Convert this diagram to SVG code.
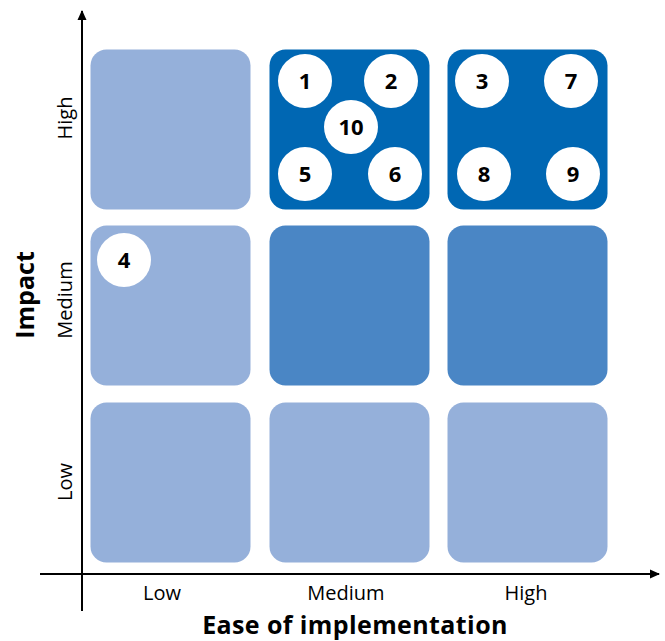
<svg xmlns="http://www.w3.org/2000/svg" width="665" height="641" viewBox="0 0 665 641">
<style>
.light{fill:#95B0DA}
.mid{fill:#4A86C5}
.dark{fill:#0067B3}
.c{fill:#FFFFFF}
.n{font-family:"Open Sans","Noto Sans",sans-serif;font-weight:bold;font-size:22px;fill:#000;text-anchor:middle}
.lab{font-family:"Open Sans","Noto Sans",sans-serif;font-size:20px;fill:#000;text-anchor:middle}
.title{font-family:"Open Sans","Noto Sans",sans-serif;font-weight:bold;font-size:25px;fill:#000;text-anchor:middle}
.ax{stroke:#000;stroke-width:2;fill:none}
</style>
<defs>
<marker id="ah" viewBox="0 0 10 10" refX="9" refY="5" markerWidth="10" markerHeight="10" markerUnits="userSpaceOnUse" orient="auto">
<path d="M0,0.5 L10,5 L0,9.5 Z" fill="#000"/>
</marker>
</defs>
<g id="cells">
<rect id="cell-low-high" class="light" x="90.5" y="49.5" width="160" height="160" rx="16"/>
<rect id="cell-med-high" class="dark" x="269.5" y="49.5" width="160" height="160" rx="16"/>
<rect id="cell-high-high" class="dark" x="447.5" y="49.5" width="160" height="160" rx="16"/>
<rect id="cell-low-med" class="light" x="90.5" y="225.5" width="160" height="160" rx="16"/>
<rect id="cell-med-med" class="mid" x="269.5" y="225.5" width="160" height="160" rx="16"/>
<rect id="cell-high-med" class="mid" x="447.5" y="225.5" width="160" height="160" rx="16"/>
<rect id="cell-low-low" class="light" x="90.5" y="402.5" width="160" height="160" rx="16"/>
<rect id="cell-med-low" class="light" x="269.5" y="402.5" width="160" height="160" rx="16"/>
<rect id="cell-high-low" class="light" x="447.5" y="402.5" width="160" height="160" rx="16"/>
</g>
<g id="connectors">
<line class="ax" x1="82" y1="611" x2="82" y2="11" marker-end="url(#ah)"/>
<line class="ax" x1="40" y1="574" x2="659" y2="574" marker-end="url(#ah)"/>
</g>
<g id="item-1"><circle class="c" cx="305" cy="81" r="27"/><text class="n" x="305" y="89">1</text></g>
<g id="item-2"><circle class="c" cx="391" cy="81" r="27"/><text class="n" x="391" y="89">2</text></g>
<g id="item-10"><circle class="c" cx="351" cy="127" r="27"/><text class="n" x="351" y="135">10</text></g>
<g id="item-5"><circle class="c" cx="305" cy="174" r="27"/><text class="n" x="305" y="182">5</text></g>
<g id="item-6"><circle class="c" cx="395" cy="174" r="27"/><text class="n" x="395" y="182">6</text></g>
<g id="item-3"><circle class="c" cx="482" cy="81" r="27"/><text class="n" x="482" y="89">3</text></g>
<g id="item-7"><circle class="c" cx="571" cy="81" r="27"/><text class="n" x="571" y="89">7</text></g>
<g id="item-8"><circle class="c" cx="484" cy="174" r="27"/><text class="n" x="484" y="182">8</text></g>
<g id="item-9"><circle class="c" cx="573" cy="174" r="27"/><text class="n" x="573" y="182">9</text></g>
<g id="item-4"><circle class="c" cx="124" cy="260" r="27"/><text class="n" x="124" y="268">4</text></g>
<g id="labels">
<text class="lab" x="162" y="600">Low</text>
<text class="lab" x="346" y="600">Medium</text>
<text class="lab" x="526" y="600">High</text>
<text class="title" x="355" y="634" letter-spacing="0.4">Ease of implementation</text>
<text class="lab" transform="translate(72,118) rotate(-90)">High</text>
<text class="lab" transform="translate(72,300) rotate(-90)">Medium</text>
<text class="lab" transform="translate(72,482) rotate(-90)">Low</text>
<text class="title" transform="translate(34,295) rotate(-90)">Impact</text>
</g>
</svg>
